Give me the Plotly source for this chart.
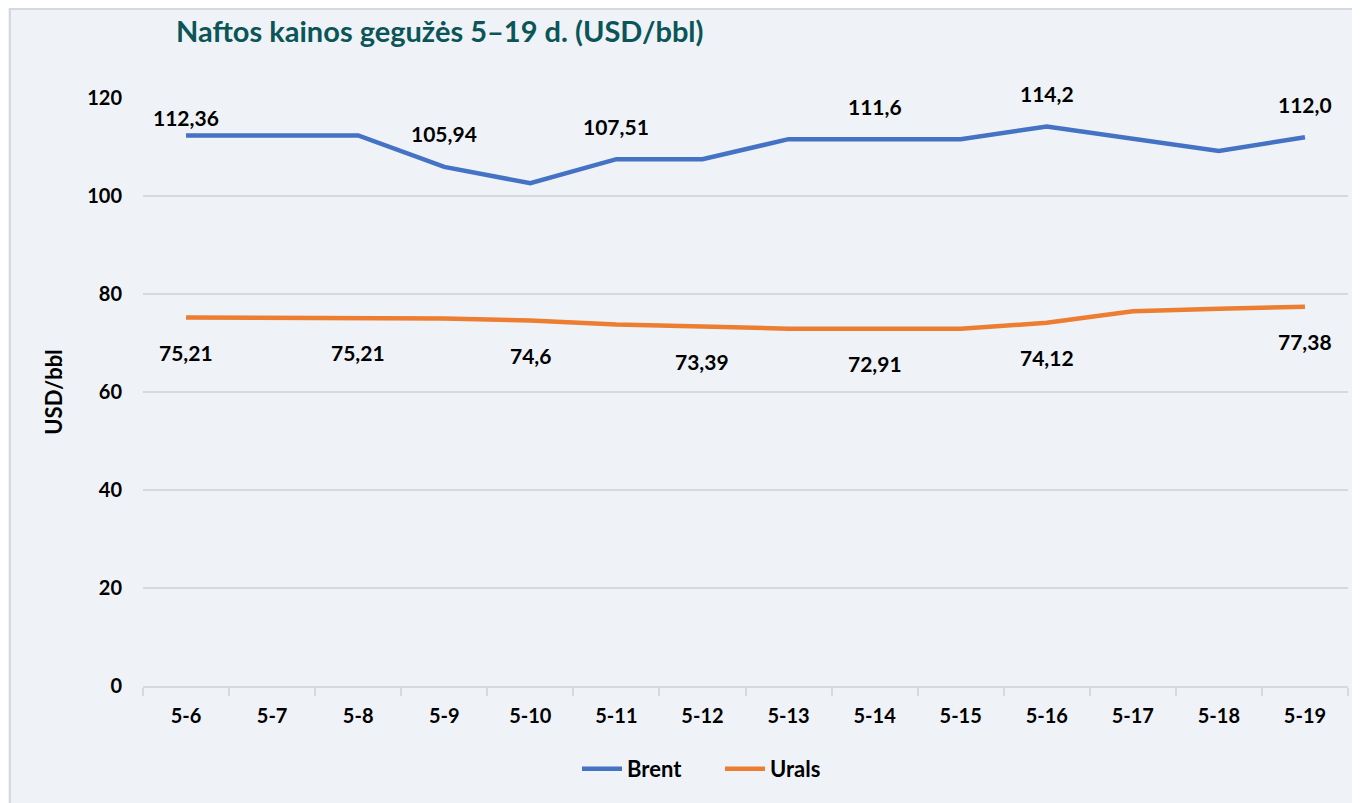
import plotly.graph_objects as go

# data
dates = ["5-6", "5-7", "5-8", "5-9", "5-10", "5-11", "5-12",
         "5-13", "5-14", "5-15", "5-16", "5-17", "5-18", "5-19"]
brent = [112.36, 112.36, 112.36, 105.94, 102.6, 107.51, 107.51,
         111.6, 111.6, 111.6, 114.2, 111.8, 109.2, 112.0]
urals = [75.21, 75.21, 75.21, 75.0, 74.6, 73.8, 73.39,
         72.91, 72.91, 72.91, 74.12, 76.5, 77.0, 77.38]

# which points carry a value label, and the label text as printed
brent_labels = {"5-6": "112,36", "5-9": "105,94", "5-11": "107,51",
                "5-14": "111,6", "5-16": "114,2", "5-19": "112,0"}
urals_labels = {"5-6": "75,21", "5-8": "75,21", "5-10": "74,6",
                "5-12": "73,39", "5-14": "72,91", "5-16": "74,12",
                "5-19": "77,38"}

FONT = "Lato"
BG = "#eff3f7"
GRID = "#d9d9d9"

# plot area in pixels (figure coords)
L, R, T, B = 135, 20, 90, 125
W, H = 1360, 803
PW, PH = W - L - R, H - T - B

fig = go.Figure()
fig.add_trace(go.Scatter(x=dates, y=brent, name="Brent", mode="lines",
                         line=dict(color="#4472c4", width=4.5)))
fig.add_trace(go.Scatter(x=dates, y=urals, name="Urals", mode="lines",
                         line=dict(color="#ed7d31", width=4.5)))

annotations = []
for d, txt in brent_labels.items():
    y = brent[dates.index(d)]
    annotations.append(dict(x=d, y=y, text=txt, showarrow=False,
                            yshift=18 if d == "5-6" else 33,
                            font=dict(size=21, color="black", family=FONT)))
for d, txt in urals_labels.items():
    y = urals[dates.index(d)]
    annotations.append(dict(x=d, y=y, text=txt, showarrow=False, yshift=-35,
                            font=dict(size=21, color="black", family=FONT)))

fig.update_layout(
    width=W, height=H,
    paper_bgcolor=BG, plot_bgcolor=BG,
    margin=dict(l=L, r=R, t=T, b=B, autoexpand=False),
    font=dict(family=FONT, size=20, color="black", weight="bold"),
    title=dict(text="<b>Naftos kainos gegužės 5–19 d. (USD/bbl)</b>",
               x=168 / W, xanchor="left", y=1 - 24 / H, yanchor="middle",
               font=dict(size=29, color="#0b5558", family=FONT)),
    showlegend=True,
    legend=dict(orientation="h", x=(712 - L) / PW, xanchor="center", y=-83 / PH,
                yanchor="middle", font=dict(size=22, family=FONT, weight="bold"),
                entrywidth=88, itemwidth=40, bgcolor="rgba(0,0,0,0)"),
    annotations=annotations,
    shapes=[dict(type="rect", xref="paper", yref="paper",
                 x0=(2 - L) / PW, x1=1.2, y0=-0.5, y1=1 + (T - 1) / PH,
                 line=dict(color="#d6d9dc", width=2), fillcolor="rgba(0,0,0,0)",
                 layer="below")],
)

fig.update_xaxes(type="category", range=[-0.5, 13.5], showline=True,
                 linecolor=GRID, linewidth=2, ticks="outside", tickson="boundaries",
                 ticklen=8, tickcolor=GRID, tickwidth=1.5, showgrid=False,
                 ticklabelstandoff=11,
                 tickfont=dict(size=20, family=FONT, weight="bold"))
fig.update_yaxes(range=[0, 120], dtick=20, showgrid=True, gridcolor=GRID,
                 gridwidth=1.5, zeroline=False, showline=False, ticks="",
                 ticklabelstandoff=20,
                 tickfont=dict(size=20, family=FONT, weight="bold"),
                 title=dict(text="USD/bbl", standoff=18,
                            font=dict(size=22, family=FONT, weight="bold")))

fig.write_html("out.html")
